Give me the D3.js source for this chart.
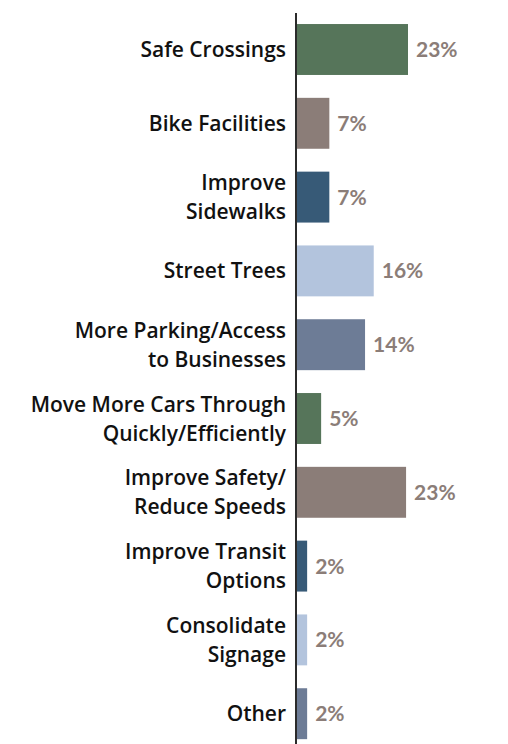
<!DOCTYPE html>
<html><head><meta charset="utf-8">
<script src="https://cdn.jsdelivr.net/npm/d3@7"></script>
<style>html,body{margin:0;padding:0;background:#fff;}</style>
</head><body>
<svg id="c" width="508" height="744"></svg>
<script>
const categories = [
  ["Safe Crossings"],
  ["Bike Facilities"],
  ["Improve", "Sidewalks"],
  ["Street Trees"],
  ["More Parking/Access", "to Businesses"],
  ["Move More Cars Through", "Quickly/Efficiently"],
  ["Improve Safety/", "Reduce Speeds"],
  ["Improve Transit", "Options"],
  ["Consolidate", "Signage"],
  ["Other"]
];
const values = [23.0, 6.7, 6.7, 15.9, 14.1, 5.0, 22.6, 2.1, 2.1, 2.1];
const valueLabels = ["23%", "7%", "7%", "16%", "14%", "5%", "23%", "2%", "2%", "2%"];
const colors = ["#56755A", "#8B7D78", "#375A77", "#B3C4DD", "#6D7C96", "#56755A", "#8B7D78", "#375A77", "#B3C4DD", "#6D7C96"];

const data = categories.map((c, i) => ({key: c.join(" "), lines: c, v: values[i], label: valueLabels[i], color: colors[i]}));
const svg = d3.select("#c");
const x = d3.scaleLinear().domain([0, 23]).range([297, 408]);
const y = d3.scaleBand().domain(data.map(d => d.key)).range([12.6, 750.6]).paddingInner(0.31).paddingOuter(0.155);

svg.selectAll("rect.bar").data(data).join("rect")
  .attr("class", "bar")
  .attr("x", x(0))
  .attr("y", d => y(d.key))
  .attr("width", d => x(d.v) - x(0))
  .attr("height", y.bandwidth())
  .attr("fill", d => d.color);

svg.append("line")
  .attr("x1", 296).attr("x2", 296)
  .attr("y1", 13).attr("y2", 744)
  .attr("stroke", "#2b2b2b").attr("stroke-width", 2);

svg.selectAll("text.val").data(data).join("text")
  .attr("class", "val")
  .attr("x", d => x(d.v) + 8)
  .attr("y", d => y(d.key) + y.bandwidth() / 2)
  .attr("dy", "0.36em")
  .attr("font-family", "Lato, 'Open Sans', sans-serif")
  .attr("font-weight", "bold")
  .attr("font-size", 21)
  .attr("fill", "#8B7D78")
  .text(d => d.label);

const lh = 29;
const g = svg.selectAll("text.cat").data(data).join("text")
  .attr("class", "cat")
  .attr("text-anchor", "end")
  .attr("font-family", "'Open Sans', Lato, sans-serif")
  .attr("font-weight", 600)
  .attr("font-size", 21)
  .attr("fill", "#111");
g.each(function(d) {
  const t = d3.select(this);
  const cy = y(d.key) + y.bandwidth() / 2;
  const n = d.lines.length;
  d.lines.forEach((ln, j) => {
    t.append("tspan")
      .attr("x", 286)
      .attr("y", cy + (j - (n - 1) / 2) * lh)
      .attr("dy", "0.36em")
      .text(ln);
  });
});
</script>
</body></html>
